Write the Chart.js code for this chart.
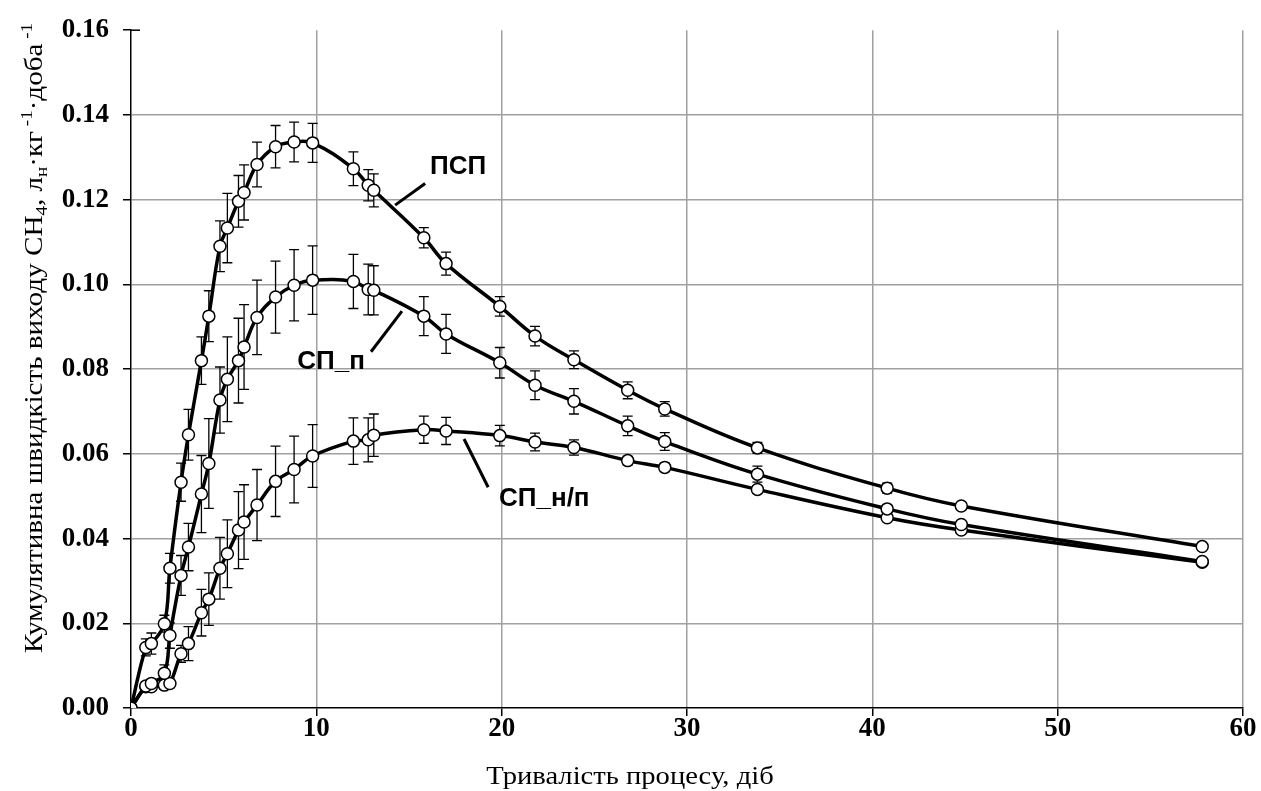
<!DOCTYPE html>
<html>
<head>
<meta charset="utf-8">
<script src="https://cdn.jsdelivr.net/npm/chart.js@4.4.1/dist/chart.umd.min.js"></script>
<style>
  body { margin: 0; background: #fff; }
  #wrap { width: 1261px; height: 791px; }
</style>
</head>
<body>
<div id="wrap"><canvas id="chart" width="1261" height="791"></canvas></div>
<script>
// days of the process
var days = [0, 0.8, 1.1, 1.8, 2.1, 2.7, 3.1, 3.8, 4.2, 4.8, 5.2, 5.8, 6.1, 6.8, 7.8, 8.8, 9.8,
            12.0, 12.8, 13.1, 15.8, 17.0, 19.9, 21.8, 23.9, 26.8, 28.8, 33.8, 40.8, 44.8, 57.8];

var psp = [0, 0.0143, 0.0152, 0.0199, 0.033, 0.0533, 0.0645, 0.082, 0.0925, 0.109, 0.1133, 0.1196, 0.1217,
           0.1283, 0.1325, 0.1336, 0.1334, 0.1273, 0.1234, 0.1222, 0.111, 0.1049, 0.0948, 0.0878, 0.0822,
           0.075, 0.0706, 0.0614, 0.0519, 0.0477, 0.0381];
var psp_err = [0, 0.002, 0.0025, 0.002, 0.0035, 0.0045, 0.006, 0.0056, 0.006, 0.006, 0.0082, 0.0061, 0.0065,
               0.0053, 0.005, 0.0047, 0.0046, 0.004, 0.0037, 0.0039, 0.0024, 0.0027, 0.0023, 0.0023, 0.0021,
               0.002, 0.0017, 0.0013, 0.0012, 0.0008, 0.0005];

var sp_p = [0, 0.0052, 0.0058, 0.0082, 0.0171, 0.0313, 0.038, 0.0505, 0.0577, 0.0727, 0.0776, 0.082, 0.0852,
            0.0922, 0.097, 0.0998, 0.101, 0.1007, 0.0988, 0.0986, 0.0925, 0.0883, 0.0815, 0.0762, 0.0724,
            0.0666, 0.0629, 0.0552, 0.047, 0.0433, 0.0346];
var sp_p_err = [0, 0.001, 0.001, 0.002, 0.003, 0.0047, 0.0056, 0.0091, 0.0106, 0.0078, 0.01, 0.01, 0.01,
                0.0088, 0.0085, 0.0084, 0.0081, 0.0064, 0.006, 0.0058, 0.0046, 0.0046, 0.0036, 0.0034, 0.003,
                0.0023, 0.0021, 0.0019, 0.0007, 0.0005, 0];

var sp_np = [0, 0.005, 0.005, 0.0054, 0.0058, 0.0128, 0.0152, 0.0225, 0.0257, 0.033, 0.0364, 0.042, 0.0439,
             0.0479, 0.0535, 0.0563, 0.0595, 0.063, 0.0633, 0.0644, 0.0657, 0.0654, 0.0643, 0.0628, 0.0615,
             0.0584, 0.0568, 0.0516, 0.0449, 0.042, 0.0344];
var sp_np_err = [0, 0.0008, 0.0008, 0.001, 0.001, 0.002, 0.004, 0.0055, 0.0062, 0.0073, 0.008, 0.0091, 0.0088,
                 0.0084, 0.0083, 0.0079, 0.0074, 0.0055, 0.0052, 0.005, 0.0032, 0.0032, 0.0024, 0.0021, 0.0018,
                 0.001, 0.001, 0.0008, 0.0004, 0.0003, 0];

var seriesNames = ["ПСП", "СП_п", "СП_н/п"];

// series labels with leader lines (data units)
var labelText = ["ПСП", "СП_п", "СП_н/п"];
var labelAt   = [[17.65, 0.1278], [10.8, 0.0818], [22.3, 0.0493]];
var leaderFrom = [[14.25, 0.1187], [12.95, 0.0841], [17.97, 0.0635]];
var leaderTo   = [[15.87, 0.1238], [14.62, 0.0937], [19.27, 0.0521]];

var xTitle = "Тривалість процесу, діб";
// y title pieces: text, kind (n / sub / sup)
var yTitleParts = [["Кумулятивна швидкість виходу CH", "n"], ["4", "sub"], [", л", "n"], ["н", "sub"],
                   ["·кг", "n"], [" -1", "sup"], ["·доба", "n"], [" -1", "sup"]];

function pts(ys) {
  var out = [];
  for (var i = 0; i < days.length; i++) out.push({x: days[i], y: ys[i]});
  return out;
}

function ds(name, ys, errs) {
  return {
    label: name,
    data: pts(ys),
    errs: errs,
    borderColor: "#000",
    borderWidth: 3.5,
    tension: 0.4,
    pointRadius: 6,
    pointBorderWidth: 1.5,
    pointBorderColor: "#000",
    pointBackgroundColor: "#fff",
    fill: false
  };
}

var errorBars = {
  id: "errorBars",
  beforeDatasetsDraw: function(chart) {
    var ctx = chart.ctx, xs = chart.scales.x, ys = chart.scales.y;
    ctx.save();
    ctx.strokeStyle = "#000";
    ctx.lineWidth = 1.3;
    chart.data.datasets.forEach(function(d) {
      d.data.forEach(function(p, i) {
        var e = d.errs[i];
        if (!e) return;
        var px = xs.getPixelForValue(p.x);
        var t = ys.getPixelForValue(p.y + e), b = ys.getPixelForValue(p.y - e);
        ctx.beginPath();
        ctx.moveTo(px, t); ctx.lineTo(px, b);
        ctx.moveTo(px - 5, t); ctx.lineTo(px + 5, t);
        ctx.moveTo(px - 5, b); ctx.lineTo(px + 5, b);
        ctx.stroke();
      });
    });
    ctx.restore();
  }
};

var serif = "'Liberation Serif', 'Times New Roman', serif";

var extras = {
  id: "extras",
  afterDraw: function(chart) {
    var ctx = chart.ctx, xs = chart.scales.x, ys = chart.scales.y;
    ctx.save();
    // leader lines and series labels
    ctx.strokeStyle = "#000";
    ctx.lineWidth = 3;
    for (var i = 0; i < labelText.length; i++) {
      ctx.beginPath();
      ctx.moveTo(xs.getPixelForValue(leaderFrom[i][0]), ys.getPixelForValue(leaderFrom[i][1]));
      ctx.lineTo(xs.getPixelForValue(leaderTo[i][0]), ys.getPixelForValue(leaderTo[i][1]));
      ctx.stroke();
      ctx.fillStyle = "#000";
      ctx.font = "bold 26px 'Liberation Sans', Arial, sans-serif";
      ctx.textAlign = "center";
      ctx.textBaseline = "middle";
      ctx.fillText(labelText[i], xs.getPixelForValue(labelAt[i][0]), ys.getPixelForValue(labelAt[i][1]));
    }
    // inner half of the top y tick
    ctx.lineWidth = 1.5;
    ctx.beginPath();
    ctx.moveTo(chart.chartArea.left, chart.chartArea.top);
    ctx.lineTo(chart.chartArea.left + 9, chart.chartArea.top);
    ctx.stroke();
    ctx.restore();

    // x axis title (stretched a bit like the original)
    ctx.save();
    ctx.fillStyle = "#000";
    ctx.font = "26px " + serif;
    ctx.textAlign = "center";
    ctx.textBaseline = "alphabetic";
    ctx.translate(630, 784);
    ctx.scale(1.1, 1);
    ctx.fillText(xTitle, 0, 0);
    ctx.restore();

    // y axis title with sub/superscripts
    ctx.save();
    ctx.fillStyle = "#000";
    var big = "26px " + serif;
    var small = "17px " + serif;
    var total = 0;
    yTitleParts.forEach(function(p) {
      ctx.font = p[1] === "n" ? big : small;
      total += ctx.measureText(p[0]).width;
    });
    ctx.translate(33, 338);
    ctx.rotate(-Math.PI / 2);
    ctx.scale(1.12, 1);
    ctx.textAlign = "left";
    ctx.textBaseline = "alphabetic";
    var x = -total / 2, base = 9;
    yTitleParts.forEach(function(p) {
      ctx.font = p[1] === "n" ? big : small;
      var off = p[1] === "sub" ? 5 : (p[1] === "sup" ? -10 : 0);
      ctx.fillText(p[0], x, base + off);
      x += ctx.measureText(p[0]).width;
    });
    ctx.restore();
  }
};

new Chart(document.getElementById("chart"), {
  type: "line",
  data: {
    datasets: [ds(seriesNames[0], psp, psp_err), ds(seriesNames[1], sp_p, sp_p_err), ds(seriesNames[2], sp_np, sp_np_err)]
  },
  options: {
    responsive: false,
    devicePixelRatio: 1,
    animation: false,
    layout: { padding: { top: 23, right: 18, left: 0, bottom: 0 } },
    plugins: { legend: { display: false }, tooltip: { enabled: false } },
    scales: {
      x: {
        type: "linear",
        min: 0, max: 60,
        afterFit: function(s) { s.height = 83; },
        ticks: {
          stepSize: 10,
          color: "#000",
          padding: -3,
          font: { family: serif, size: 27, weight: "bold" }
        },
        grid: {
          color: function(c) { return c.index === 0 ? "rgba(0,0,0,0)" : "#a0a0a0"; },
          lineWidth: 1.5,
          tickColor: "#000",
          tickLength: 8
        },
        border: { color: "#000", width: 1.5 }
      },
      y: {
        min: 0, max: 0.16,
        afterFit: function(s) { s.width = 131; },
        ticks: {
          stepSize: 0.02,
          color: "#000",
          padding: 14,
          callback: function(v) { return v.toFixed(2); },
          font: { family: serif, size: 27, weight: "bold" }
        },
        grid: {
          color: function(c) { return (c.index === 0 || c.index === 8) ? "rgba(0,0,0,0)" : "#a0a0a0"; },
          lineWidth: 1.5,
          tickColor: "#000",
          tickLength: 8
        },
        border: { color: "#000", width: 1.5 }
      }
    }
  },
  plugins: [errorBars, extras]
});
</script>
</body>
</html>
